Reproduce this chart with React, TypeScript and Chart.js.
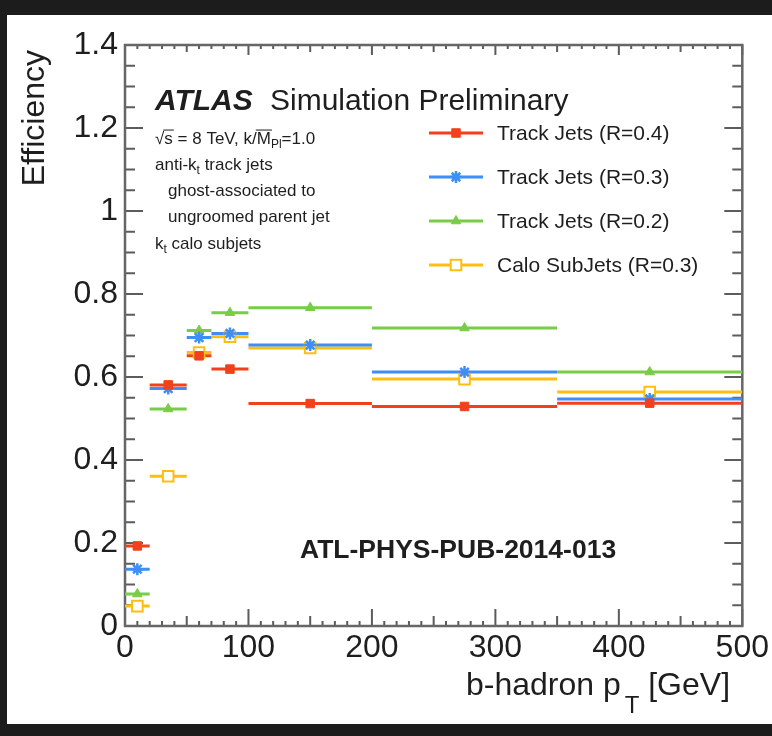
import React, { useEffect, useRef } from "react";
import { Chart, registerables } from "chart.js";

Chart.register(...registerables);

// ---------------- data ----------------
const binEdges = [0, 20, 50, 70, 100, 200, 350, 500];
const binCenters = [10, 35, 60, 85, 150, 275, 425];
const trackJetsR04 = [0.193, 0.581, 0.651, 0.619, 0.536, 0.529, 0.537];
const trackJetsR03 = [0.137, 0.572, 0.695, 0.705, 0.677, 0.612, 0.547];
const trackJetsR02 = [0.077, 0.523, 0.712, 0.755, 0.767, 0.718, 0.612];
const caloSubJetsR03 = [0.048, 0.361, 0.659, 0.697, 0.67, 0.595, 0.564];
const seriesNames = [
  "Track Jets (R=0.4)",
  "Track Jets (R=0.3)",
  "Track Jets (R=0.2)",
  "Calo SubJets (R=0.3)",
];
const xTickValues = [0, 100, 200, 300, 400, 500];
const yTickValues = [0, 0.2, 0.4, 0.6, 0.8, 1.0, 1.2, 1.4];
const yTickLabels = ["0", "0.2", "0.4", "0.6", "0.8", "1", "1.2", "1.4"];
const xAxisTitleMain = "b-hadron p";
const xAxisTitleSub = "T";
const xAxisTitleUnit = "[GeV]";
const yAxisTitle = "Efficiency";
const atlasLabel = "ATLAS";
const atlasSuffix = "Simulation Preliminary";
const refLabel = "ATL-PHYS-PUB-2014-013";

// ---------------- styles ----------------
const FONT = '"Liberation Sans", Arial, Helvetica, sans-serif';
const TEXT = "#1e1e1e";
const seriesValues = [trackJetsR04, trackJetsR03, trackJetsR02, caloSubJetsR03];
const seriesStyles = [
  { color: "#f2401c", point: "rect", radius: 6, fill: "#f2401c", bw: 1 },
  { color: "#3e8ef6", point: "star", radius: 6, fill: "#3e8ef6", bw: 2.5 },
  { color: "#79cd46", point: "triangle", radius: 5.5, fill: "#79cd46", bw: 1 },
  { color: "#fdbf0e", point: "rect", radius: 7.5, fill: "#ffffff", bw: 2 },
];

function drawMarker(ctx: CanvasRenderingContext2D, style: any, x: number, y: number) {
  ctx.save();
  ctx.strokeStyle = style.color;
  ctx.fillStyle = style.fill;
  ctx.lineWidth = style.bw;
  const r = style.radius;
  ctx.beginPath();
  if (style.point === "rect") {
    const s = Math.SQRT1_2 * r;
    ctx.rect(x - s, y - s, 2 * s, 2 * s);
    ctx.fill();
    ctx.stroke();
  } else if (style.point === "triangle") {
    ctx.moveTo(x, y - r);
    ctx.lineTo(x + r * 0.866, y + r * 0.5);
    ctx.lineTo(x - r * 0.866, y + r * 0.5);
    ctx.closePath();
    ctx.fill();
    ctx.stroke();
  } else {
    ctx.moveTo(x - r, y);
    ctx.lineTo(x + r, y);
    ctx.moveTo(x, y - r);
    ctx.lineTo(x, y + r);
    const d = r * Math.SQRT1_2;
    ctx.moveTo(x - d, y - d);
    ctx.lineTo(x + d, y + d);
    ctx.moveTo(x - d, y + d);
    ctx.lineTo(x + d, y - d);
    ctx.stroke();
  }
  ctx.restore();
}

type Part = { t: string; size: number; dy?: number; overline?: boolean; bold?: boolean; italic?: boolean };

function drawParts(ctx: CanvasRenderingContext2D, x: number, y: number, parts: Part[]) {
  let cx = x;
  for (const p of parts) {
    ctx.font = `${p.italic ? "italic " : ""}${p.bold ? "bold " : ""}${p.size}px ${FONT}`;
    const w = ctx.measureText(p.t).width;
    ctx.fillText(p.t, cx, y + (p.dy || 0));
    if (p.overline) {
      ctx.save();
      ctx.strokeStyle = TEXT;
      ctx.lineWidth = 1;
      ctx.beginPath();
      const oy = y + (p.dy || 0) - p.size * 0.82;
      ctx.moveTo(cx - 1, oy);
      ctx.lineTo(cx + w + 1, oy);
      ctx.stroke();
      ctx.restore();
    }
    cx += w;
  }
  return cx;
}

const infoLines: { x: number; y: number; parts: Part[] }[] = [
  {
    x: 155,
    y: 144,
    parts: [
      { t: "\u221A", size: 17 },
      { t: "s", size: 17, overline: true },
      { t: " = 8 TeV, k/", size: 17 },
      { t: "M", size: 17, overline: true },
      { t: "Pl", size: 12, dy: 4 },
      { t: "=1.0", size: 17 },
    ],
  },
  {
    x: 155,
    y: 170,
    parts: [
      { t: "anti-k", size: 17 },
      { t: "t", size: 12, dy: 4 },
      { t: " track jets", size: 17 },
    ],
  },
  { x: 168, y: 196, parts: [{ t: "ghost-associated to", size: 17 }] },
  { x: 168, y: 222, parts: [{ t: "ungroomed parent jet", size: 17 }] },
  {
    x: 155,
    y: 249,
    parts: [
      { t: "k", size: 17 },
      { t: "t", size: 12, dy: 4 },
      { t: " calo subjets", size: 17 },
    ],
  },
];

const framePlugin = {
  id: "rootFrame",
  beforeDatasetsDraw(chart: any) {
    const ctx: CanvasRenderingContext2D = chart.ctx;
    const { left, right, top, bottom } = chart.chartArea;
    const xs = chart.scales.x;
    const ys = chart.scales.y;
    ctx.save();
    ctx.strokeStyle = "#5c5c5c";
    ctx.lineWidth = 2;
    ctx.beginPath();
    for (let v = 0; v <= 500; v += 10) {
      const px = xs.getPixelForValue(v);
      const major = v % 100 === 0;
      const med = v % 50 === 0;
      const lb = major ? 17 : med ? 10 : 5;
      const lt = major ? 10 : med ? 7 : 4;
      ctx.moveTo(px, bottom);
      ctx.lineTo(px, bottom - lb);
      ctx.moveTo(px, top);
      ctx.lineTo(px, top + lt);
    }
    for (let i = 0; i <= 28; i++) {
      const py = ys.getPixelForValue(i * 0.05);
      const len = i % 4 === 0 ? 18 : 10;
      ctx.moveTo(left, py);
      ctx.lineTo(left + len, py);
      ctx.moveTo(right, py);
      ctx.lineTo(right - len, py);
    }
    ctx.stroke();
    ctx.lineWidth = 2.5;
    ctx.strokeStyle = "#666";
    ctx.strokeRect(left, top, right - left, bottom - top);
    ctx.restore();
  },
  afterDraw(chart: any) {
    const ctx: CanvasRenderingContext2D = chart.ctx;
    ctx.save();
    ctx.fillStyle = TEXT;
    ctx.textBaseline = "alphabetic";
    ctx.textAlign = "left";

    // y axis title
    ctx.save();
    ctx.translate(44, 50);
    ctx.rotate(-Math.PI / 2);
    ctx.textAlign = "right";
    ctx.font = `32px ${FONT}`;
    ctx.fillText(yAxisTitle, 0, 0);
    ctx.restore();

    // x axis title
    drawParts(ctx, 466, 695, [
      { t: xAxisTitleMain, size: 32 },
      { t: " ", size: 14 },
      { t: xAxisTitleSub, size: 24, dy: 18 },
      { t: " " + xAxisTitleUnit, size: 32 },
    ]);

    // ATLAS label
    ctx.font = `italic bold 30px ${FONT}`;
    ctx.fillText(atlasLabel, 155, 110);
    ctx.font = `30px ${FONT}`;
    ctx.fillText(atlasSuffix, 270, 110);

    // info lines
    for (const line of infoLines) drawParts(ctx, line.x, line.y, line.parts);

    // reference label
    ctx.font = `bold 26.5px ${FONT}`;
    ctx.fillText(refLabel, 300, 558);

    // legend
    const rows = [133, 177, 221, 265];
    seriesNames.forEach((name, i) => {
      const st = seriesStyles[i];
      const y = rows[i];
      ctx.save();
      ctx.strokeStyle = st.color;
      ctx.lineWidth = 3;
      ctx.beginPath();
      ctx.moveTo(429, y);
      ctx.lineTo(483, y);
      ctx.stroke();
      ctx.restore();
      drawMarker(ctx, st, 456, y);
      ctx.fillStyle = TEXT;
      ctx.font = `21px ${FONT}`;
      ctx.textBaseline = "middle";
      ctx.fillText(name, 497, y + 1);
      ctx.textBaseline = "alphabetic";
    });
    ctx.restore();
  },
};

export default function App() {
  const canvasRef = useRef<HTMLCanvasElement | null>(null);

  useEffect(() => {
    if (!canvasRef.current) return;
    const datasets: any[] = [];
    // markers (drawn on top: earlier datasets are drawn last)
    seriesValues.forEach((vals, k) => {
      const st = seriesStyles[k];
      datasets.push({
        label: seriesNames[k] + " markers",
        data: binCenters.map((x, i) => ({ x, y: vals[i] })),
        showLine: false,
        pointStyle: st.point,
        pointRadius: st.radius,
        pointBackgroundColor: st.fill,
        pointBorderColor: st.color,
        pointBorderWidth: st.bw,
      });
    });
    // horizontal bin-width bars
    seriesValues.forEach((vals, k) => {
      const st = seriesStyles[k];
      const pts: any[] = [];
      vals.forEach((v, i) => {
        pts.push({ x: binEdges[i], y: v });
        pts.push({ x: binEdges[i + 1], y: v });
        pts.push({ x: binEdges[i + 1], y: null });
      });
      datasets.push({
        label: seriesNames[k],
        data: pts,
        showLine: true,
        spanGaps: false,
        borderColor: st.color,
        borderWidth: 3,
        pointRadius: 0,
        tension: 0,
      });
    });

    const chart = new Chart(canvasRef.current, {
      type: "scatter",
      data: { datasets },
      options: {
        responsive: false,
        animation: false,
        layout: { padding: { top: 45, right: 28, left: 0, bottom: 0 } },
        plugins: {
          legend: { display: false },
          tooltip: { enabled: false },
          title: { display: false },
        },
        scales: {
          x: {
            type: "linear",
            min: 0,
            max: 500,
            grid: { display: false, drawTicks: false },
            border: { display: false },
            afterBuildTicks: (s: any) => {
              s.ticks = xTickValues.map((v) => ({ value: v }));
            },
            ticks: {
              autoSkip: false,
              maxRotation: 0,
              padding: 3,
              color: TEXT,
              font: { family: FONT, size: 32 },
              callback: (v: any) => String(v),
            },
            afterFit: (s: any) => {
              s.height = 110;
            },
          },
          y: {
            type: "linear",
            min: 0,
            max: 1.4,
            grid: { display: false, drawTicks: false },
            border: { display: false },
            afterBuildTicks: (s: any) => {
              s.ticks = yTickValues.map((v) => ({ value: v }));
            },
            ticks: {
              autoSkip: false,
              padding: 7,
              color: TEXT,
              font: { family: FONT, size: 32 },
              callback: (v: any) => {
                const idx = yTickValues.findIndex((t) => Math.abs(t - Number(v)) < 1e-6);
                return idx >= 0 ? yTickLabels[idx] : "";
              },
            },
            afterFit: (s: any) => {
              s.width = 125;
            },
          },
        },
      } as any,
      plugins: [framePlugin],
    });
    return () => chart.destroy();
  }, []);

  return (
    <div
      style={{
        position: "fixed",
        left: 0,
        top: 0,
        width: 772,
        height: 736,
        background: "#1c1c1c",
      }}
    >
      <div
        style={{
          position: "absolute",
          left: 7,
          top: 15,
          right: 0,
          bottom: 12,
          background: "#ffffff",
        }}
      />
      <canvas
        ref={canvasRef}
        width={772}
        height={736}
        style={{ position: "absolute", left: 0, top: 0, width: 772, height: 736 }}
      />
    </div>
  );
}
